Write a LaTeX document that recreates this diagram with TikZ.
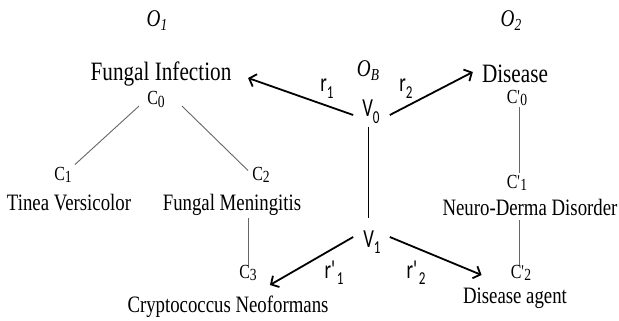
\documentclass[tikz,border=0pt]{standalone}
\usepackage{fontspec}
\usepackage{graphicx}
\setmainfont{Liberation Serif}[FakeStretch=0.8]
\newfontfamily\sansf{Carlito}[FakeStretch=0.72]
\usetikzlibrary{arrows.meta,calc}
\newcommand{\lsub}[1]{\raisebox{-0.35ex}{\scalebox{0.7}{#1}}}
\newcommand{\csub}[1]{\raisebox{-0.3ex}{\scalebox{0.85}{#1}}}
\newcommand{\ssub}[1]{\raisebox{-0.5ex}{\scalebox{0.7}{#1}}}
\newcommand{\pr}{\raisebox{0.1ex}{\scalebox{0.9}{\textquotesingle}}\kern-0.3pt}
\tikzset{
  mainlbl/.style={inner sep=0pt, anchor=base, font=\fontsize{26.5}{30}\selectfont},
  sublbl/.style={inner sep=0pt, anchor=base, font=\fontsize{23.5}{27}\selectfont},
  clbl/.style={inner sep=0pt, anchor=base, font=\fontsize{20}{23}\selectfont},
  olbl/.style={inner sep=0pt, anchor=base, font=\fontsize{24}{27}\selectfont\itshape},
  vlbl/.style={inner sep=0pt, anchor=base, font=\sansf\fontsize{26}{29}\selectfont},
  rlbl/.style={inner sep=0pt, anchor=base, font=\sansf\fontsize{26}{29}\selectfont},
  treeline/.style={draw=black!60, line width=0.9pt},
  vline/.style={draw=black, line width=0.9pt},
  arr/.style={draw=black, line width=1.8pt, -{Straight Barb[length=6pt,width=13pt]}}
}
\begin{document}
\begin{tikzpicture}[x=1pt,y=-1pt]
\useasboundingbox[fill=white] (0,0) rectangle (619,321);
% left ontology
\node[olbl] (O1) at (157,27) {O\lsub{1}};
\node[mainlbl] (FI) at (161,81) {Fungal Infection};
\node[clbl] (C0) at (156,105) {C\csub{0}};
\node[clbl] (C1) at (63,180) {C\csub{1}};
\node[sublbl] (TV) at (69,210) {Tinea Versicolor};
\node[clbl] (C2) at (261,180) {C\csub{2}};
\node[sublbl] (FM) at (232,210) {Fungal Meningitis};
\node[clbl] (C3) at (248,278) {C\csub{3}};
\node[sublbl] (CN) at (228,312) {Cryptococcus Neoformans};
% bridge
\node[olbl] (OB) at (368,77) {O\lsub{B}};
\node[vlbl] (V0) at (371,117) {V\ssub{0}};
\node[vlbl] (V1) at (372,247) {V\ssub{1}};
\node[rlbl] (r1) at (327,92) {r\ssub{1}};
\node[rlbl] (r2) at (406,92) {r\ssub{2}};
\node[rlbl] (rp1) at (334,278) {r\textquotesingle\ssub{1}};
\node[rlbl] (rp2) at (416,278) {r\textquotesingle\ssub{2}};
% right ontology
\node[olbl] (O2) at (511,27) {O\lsub{2}};
\node[mainlbl] (DI) at (515,82) {Disease};
\node[clbl] (Cp0) at (517,103) {C\pr\csub{0}};
\node[clbl] (Cp1) at (517,188) {C\pr\csub{1}};
\node[sublbl] (ND) at (530,215) {Neuro-Derma Disorder};
\node[clbl] (Cp2) at (521,278) {C\pr\csub{2}};
\node[sublbl] (DA) at (515,303) {Disease agent};
% tree lines
\draw[treeline] ([shift={(-8,1)}]C0.base west) -- ([shift={(3,-2)}]C1.north east);
\draw[treeline] ([shift={(17,1)}]C0.base east) -- ([shift={(-4,4)}]C2.north west);
\draw[treeline, shorten >=3pt] (C3.north) -- (C3.north |- FM.south);
\draw[treeline, shorten <=1pt, shorten >=2pt] ($(Cp0.south)+(2,0)$) -- ($(Cp0.south |- Cp1.north)+(2,0)$);
\draw[treeline, shorten <=5pt] ($(Cp1.south |- ND.south)+(2,0)$) -- ($(Cp1.south |- Cp2.north)+(2,0)$);
\draw[vline, shorten <=3pt, shorten >=12pt] ([xshift=-3pt]V0.south) -- ([xshift=-4pt]V1.north);
% arrows
\draw[arr] ([shift={(-9,-2)}]V0.base west) -- ([shift={(16.5,-3)}]FI.base east);
\draw[arr] ([shift={(10,-2)}]V0.base east) -- ([shift={(-9,-10)}]DI.base west);
\draw[arr] ([shift={(-10,-10)}]V1.base west) -- ([shift={(13,7)}]C3.base east);
\draw[arr] ([shift={(9,-10)}]V1.base east) -- ([shift={(-29,-3)}]Cp2.base west);
\end{tikzpicture}
\end{document}
